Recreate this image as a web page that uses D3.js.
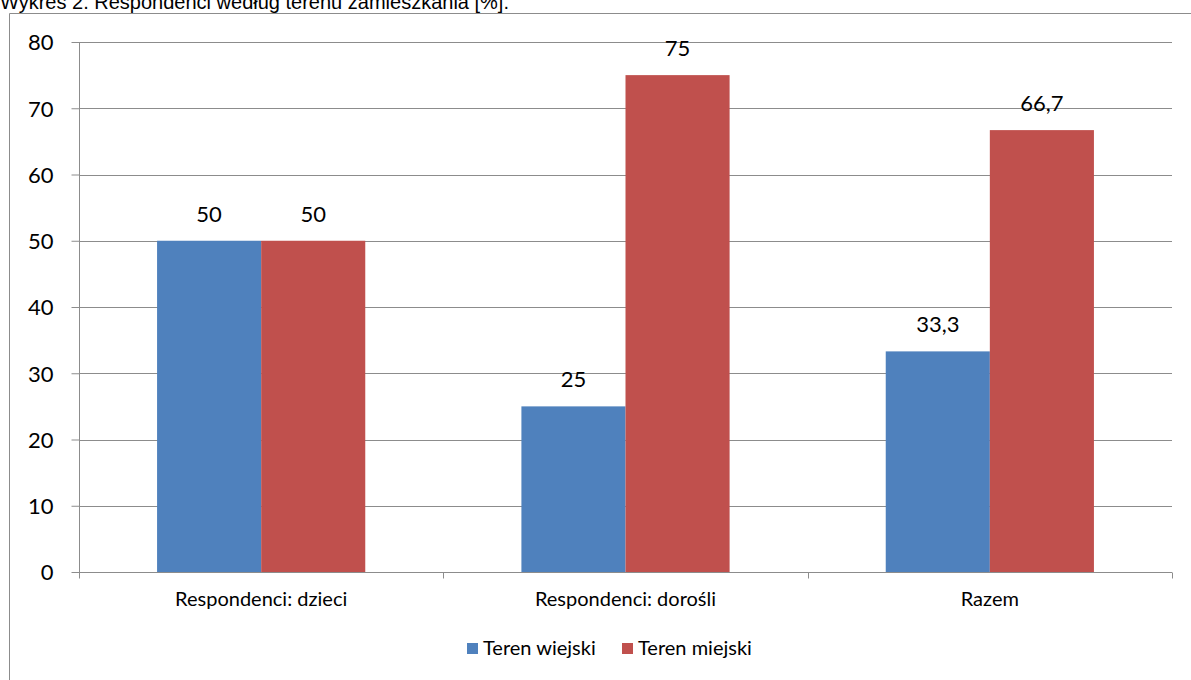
<!DOCTYPE html>
<html><head><meta charset="utf-8">
<script src="https://cdn.jsdelivr.net/npm/d3@7"></script>
<style>body{margin:0;background:#fff}svg{display:block}</style>
</head><body>
<script>
const title = "Wykres 2. Respondenci według terenu zamieszkania [%].";
const categories = ["Respondenci: dzieci", "Respondenci: dorośli", "Razem"];
const seriesNames = ["Teren wiejski", "Teren miejski"];
const wiejski = [50, 25, 33.3];
const miejski = [50, 75, 66.7];
const yTicks = [0, 10, 20, 30, 40, 50, 60, 70, 80];
const colors = ["#4f81bd", "#c0504d"];

(function(){
const W = 1191, H = 680;
const svg = d3.select("body").append("svg").attr("width", W).attr("height", H);
const font = "Lato, 'Open Sans', sans-serif";

// outer frame
svg.append("path").attr("d", "M9.5,690 V13.5 H1200").attr("fill", "none").attr("stroke", "#8c8c8c").attr("stroke-width", 1);

// title
svg.append("text").attr("x", 0).attr("y", 8.5).attr("font-family", "'Liberation Sans', Arial, sans-serif")
  .attr("font-size", 20).attr("fill", "#000").text(title);

const pl = 79, pr = 1172, pt = 42, pb = 572;
const x = d3.scaleBand().domain(categories).range([pl, pr]).paddingInner(0).paddingOuter(0);
const y = d3.scaleLinear().domain([0, 80]).range([pb, pt]);
const x1 = d3.scaleBand().domain(seriesNames).range([0, x.bandwidth()]).paddingInner(0).paddingOuter(0.75);

// gridlines
svg.append("g").selectAll("line").data(yTicks.filter(d => d > 0)).join("line")
  .attr("x1", pl).attr("x2", pr).attr("y1", d => Math.round(y(d)) + 0.5).attr("y2", d => Math.round(y(d)) + 0.5)
  .attr("stroke", "#8c8c8c").attr("stroke-width", 1);

// bars
const data = categories.map((c, i) => ({c, vals: [wiejski[i], miejski[i]]}));
const g = svg.append("g").selectAll("g").data(data).join("g").attr("transform", d => `translate(${x(d.c)},0)`);
g.selectAll("rect").data(d => d.vals.map((v, j) => ({v, s: seriesNames[j], j}))).join("rect")
  .attr("x", d => x1(d.s)).attr("width", x1.bandwidth())
  .attr("y", d => y(d.v)).attr("height", d => pb - y(d.v))
  .attr("fill", d => colors[d.j]);
g.selectAll("text").data(d => d.vals.map((v, j) => ({v, s: seriesNames[j], j}))).join("text")
  .attr("x", d => x1(d.s) + x1.bandwidth() / 2).attr("y", d => y(d.v) - 19)
  .attr("text-anchor", "middle").attr("font-family", font).attr("font-size", 22).attr("fill", "#000")
  .text(d => String(d.v).replace(".", ","));

// y axis
const yAxis = d3.axisLeft(y).tickValues(yTicks).tickSize(8).tickFormat(d => d);
const ya = svg.append("g").attr("transform", `translate(${pl + 0.5},0)`).call(yAxis);
ya.select(".domain").attr("stroke", "#8c8c8c").attr("d", `M0,${pt}V${pb}`);
ya.selectAll(".tick line").attr("stroke", "#8c8c8c");
ya.selectAll(".tick text").attr("font-family", font).attr("font-size", 22).attr("fill", "#000").attr("x", -26).attr("dy", "0.36em");

// x axis
const xa = svg.append("g").attr("transform", `translate(0,${pb + 0.5})`);
xa.append("line").attr("x1", pl).attr("x2", pr).attr("stroke", "#8c8c8c");
const xTickPos = categories.map(c => x(c)).concat([pr]);
xa.selectAll("line.t").data(xTickPos).join("line").attr("class", "t")
  .attr("x1", d => Math.round(d) + 0.5).attr("x2", d => Math.round(d) + 0.5).attr("y1", 0).attr("y2", 6).attr("stroke", "#8c8c8c");
xa.selectAll("text").data(categories).join("text")
  .attr("x", d => x(d) + x.bandwidth() / 2).attr("y", 33)
  .attr("text-anchor", "middle").attr("font-family", font).attr("font-size", 20).attr("fill", "#000").text(d => d);

// legend
const legendItems = [{n: seriesNames[0], c: colors[0], x: 467}, {n: seriesNames[1], c: colors[1], x: 622}];
const lg = svg.append("g").selectAll("g").data(legendItems).join("g").attr("transform", d => `translate(${d.x},643)`);
lg.append("rect").attr("width", 11).attr("height", 11).attr("fill", d => d.c);
lg.append("text").attr("x", 16).attr("y", 12).attr("font-family", font).attr("font-size", 20).attr("fill", "#000").text(d => d.n);
})();
</script>
</body></html>
